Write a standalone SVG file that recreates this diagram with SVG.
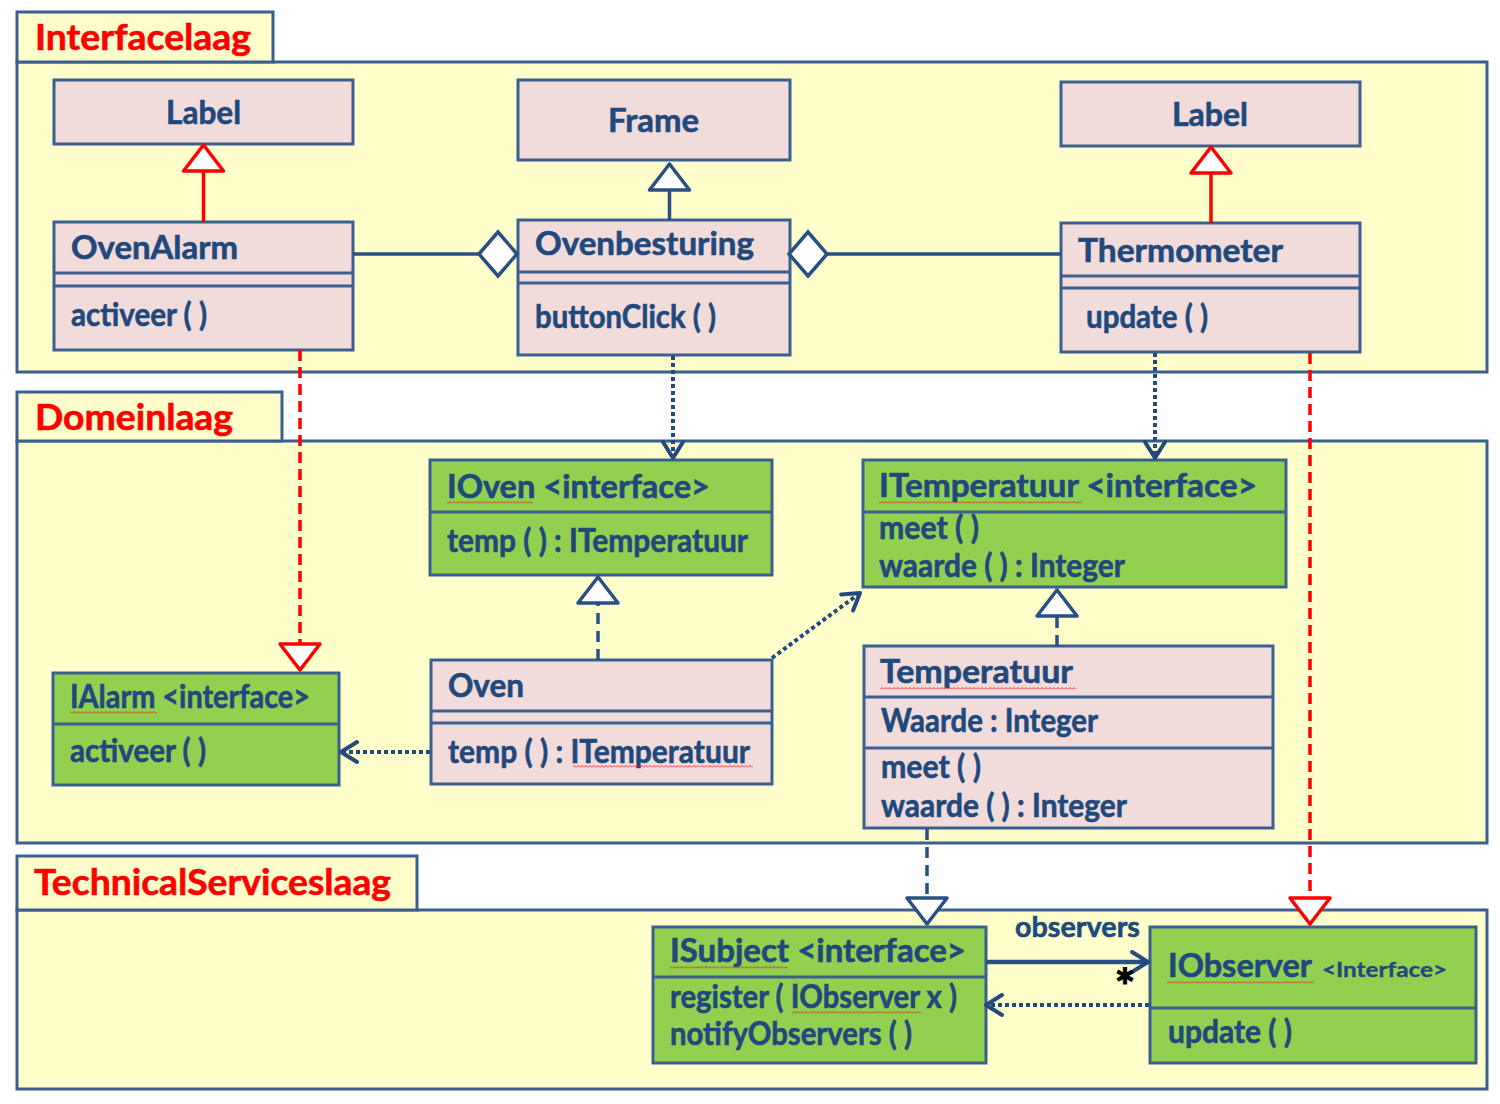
<svg xmlns="http://www.w3.org/2000/svg" width="1500" height="1104" viewBox="0 0 1500 1104">
<style>
.pkg{fill:#FFFFCC;stroke:#3B5F8E;stroke-width:3}
.cls{fill:#F2DCDB;stroke:#3B5F8E;stroke-width:3}
.ifc{fill:#92D050;stroke:#3B5F8E;stroke-width:3}
.sep{stroke:#3B5F8E;stroke-width:3;fill:none}
.t{font-family:Lato,'Noto Sans',sans-serif;font-weight:700;font-size:32px;fill:#1F497D;stroke:#1F497D;stroke-width:0.6px}
.pt{font-family:Lato,'Noto Sans',sans-serif;font-weight:700;font-size:36px;fill:#FF0000;stroke:#FF0000;stroke-width:0.6px}
.red{stroke:#FF0000;stroke-width:3.5;fill:none}
.redd{stroke:#FF0000;stroke-width:3.5;fill:none;stroke-dasharray:11 6}
.blue{stroke:#2A4F82;stroke-width:3.5;fill:none}
.blued{stroke:#2A4F82;stroke-width:3.5;fill:none;stroke-dasharray:11 7}
.dot{stroke:#24497E;stroke-width:4;fill:none;stroke-dasharray:4 3}
.sq{fill:url(#sq)}
</style>
<defs>
<pattern id="sq" width="4" height="3" patternUnits="userSpaceOnUse"><path d="M0,2.5 L2,0.5 L4,2.5" fill="none" stroke="#E02020" stroke-width="0.9"/></pattern>
<marker id="triRed" markerUnits="userSpaceOnUse" viewBox="-4 -24 34 48" refX="27" refY="0" markerWidth="34" markerHeight="48" orient="auto"><path d="M0,-20 L26,0 L0,20 Z" fill="#FFFFFF" stroke="#FF0000" stroke-width="3.5" stroke-linejoin="round"/></marker>
<marker id="triBlue" markerUnits="userSpaceOnUse" viewBox="-4 -24 34 48" refX="27" refY="0" markerWidth="34" markerHeight="48" orient="auto"><path d="M0,-20 L26,0 L0,20 Z" fill="#FFFFFF" stroke="#2A4F82" stroke-width="3.5" stroke-linejoin="round"/></marker>
<marker id="open" markerUnits="userSpaceOnUse" viewBox="-22 -14 26 28" refX="0" refY="0" markerWidth="26" markerHeight="28" orient="auto"><path d="M-16,-10 L0,0 L-16,10" fill="none" stroke="#24497E" stroke-width="4" stroke-linecap="round" stroke-linejoin="round"/></marker>
<marker id="diamond" markerUnits="userSpaceOnUse" viewBox="-42 -26 46 52" refX="0" refY="0" markerWidth="46" markerHeight="52" orient="auto"><path d="M-38,0 L-19,-22 L0,0 L-19,22 Z" fill="#FFFFFF" stroke="#2A4F82" stroke-width="3.5" stroke-linejoin="miter"/></marker>
</defs>
<rect width="1500" height="1104" fill="#FFFFFF"/>

<g id="pkg-interfacelaag">
<rect class="pkg" x="17" y="62" width="1470" height="310"/>
<rect class="pkg" x="17" y="12" width="256" height="50"/>
<text class="pt" x="35" y="50" textLength="216" lengthAdjust="spacingAndGlyphs">Interfacelaag</text>
</g>
<g id="pkg-domeinlaag">
<rect class="pkg" x="17" y="441" width="1470" height="402"/>
<rect class="pkg" x="17" y="392" width="265" height="49"/>
<text class="pt" x="35" y="430" textLength="198" lengthAdjust="spacingAndGlyphs">Domeinlaag</text>
</g>
<g id="pkg-technicalserviceslaag">
<rect class="pkg" x="17" y="910" width="1470" height="179"/>
<rect class="pkg" x="17" y="856" width="400" height="54"/>
<text class="pt" x="34" y="895" textLength="357" lengthAdjust="spacingAndGlyphs">TechnicalServiceslaag</text>
</g>

<g id="label-left">
<rect class="cls" x="54" y="80" width="299" height="64"/>
<text class="t" x="166" y="124" textLength="75" lengthAdjust="spacingAndGlyphs">Label</text>
</g>
<g id="ovenalarm">
<rect class="cls" x="54" y="222" width="299" height="128"/>
<path class="sep" d="M54,273 H353 M54,286 H353"/>
<text class="t" x="71" y="259" textLength="167" lengthAdjust="spacingAndGlyphs">OvenAlarm</text>
<text class="t" x="71" y="326" textLength="136" lengthAdjust="spacingAndGlyphs">activeer ( )</text>
</g>
<g id="frame">
<rect class="cls" x="518" y="80" width="272" height="80"/>
<text class="t" x="608" y="132" textLength="91" lengthAdjust="spacingAndGlyphs">Frame</text>
</g>
<g id="ovenbesturing">
<rect class="cls" x="518" y="220" width="272" height="135"/>
<path class="sep" d="M518,272 H790 M518,283 H790"/>
<text class="t" x="535" y="255" textLength="219" lengthAdjust="spacingAndGlyphs">Ovenbesturing</text>
<text class="t" x="535" y="328" textLength="181" lengthAdjust="spacingAndGlyphs">buttonClick ( )</text>
</g>
<g id="label-right">
<rect class="cls" x="1061" y="82" width="299" height="64"/>
<text class="t" x="1172" y="126" textLength="76" lengthAdjust="spacingAndGlyphs">Label</text>
</g>
<g id="thermometer">
<rect class="cls" x="1061" y="223" width="299" height="129"/>
<path class="sep" d="M1061,276 H1360 M1061,288 H1360"/>
<text class="t" x="1078" y="262" textLength="205" lengthAdjust="spacingAndGlyphs">Thermometer</text>
<text class="t" x="1086" y="328" textLength="122" lengthAdjust="spacingAndGlyphs">update ( )</text>
</g>

<g id="ioven">
<rect class="ifc" x="430" y="460" width="342" height="115"/>
<path class="sep" d="M430,512 H772"/>
<text class="t" x="447" y="498" textLength="263" lengthAdjust="spacingAndGlyphs">IOven &lt;interface&gt;</text>
<rect class="sq" x="447" y="501" width="86" height="3"/>
<text class="t" x="447" y="552" textLength="301" lengthAdjust="spacingAndGlyphs">temp ( ) : ITemperatuur</text>
</g>
<g id="itemperatuur">
<rect class="ifc" x="863" y="460" width="423" height="127"/>
<path class="sep" d="M863,512 H1286"/>
<text class="t" x="879" y="497" textLength="378" lengthAdjust="spacingAndGlyphs">ITemperatuur &lt;interface&gt;</text>
<rect class="sq" x="879" y="501" width="203" height="3"/>
<text class="t" x="879" y="539" textLength="100" lengthAdjust="spacingAndGlyphs">meet ( )</text>
<text class="t" x="879" y="577" textLength="246" lengthAdjust="spacingAndGlyphs">waarde ( ) : Integer</text>
</g>
<g id="ialarm">
<rect class="ifc" x="53" y="673" width="286" height="112"/>
<path class="sep" d="M53,724 H339"/>
<text class="t" x="70" y="708" textLength="240" lengthAdjust="spacingAndGlyphs">IAlarm &lt;interface&gt;</text>
<rect class="sq" x="70" y="711" width="87" height="3"/>
<text class="t" x="70" y="762" textLength="136" lengthAdjust="spacingAndGlyphs">activeer ( )</text>
</g>
<g id="oven">
<rect class="cls" x="431" y="660" width="341" height="124"/>
<path class="sep" d="M431,711 H772 M431,723 H772"/>
<text class="t" x="448" y="697" textLength="76" lengthAdjust="spacingAndGlyphs">Oven</text>
<text class="t" x="448" y="763" textLength="302" lengthAdjust="spacingAndGlyphs">temp ( ) : ITemperatuur</text>
<rect class="sq" x="573" y="765" width="180" height="3"/>
</g>
<g id="temperatuur">
<rect class="cls" x="864" y="646" width="409" height="182"/>
<path class="sep" d="M864,697 H1273 M864,748 H1273"/>
<text class="t" x="880" y="683" textLength="193" lengthAdjust="spacingAndGlyphs">Temperatuur</text>
<rect class="sq" x="880" y="687" width="196" height="3"/>
<text class="t" x="881" y="732" textLength="217" lengthAdjust="spacingAndGlyphs">Waarde : Integer</text>
<text class="t" x="881" y="778" textLength="100" lengthAdjust="spacingAndGlyphs">meet ( )</text>
<text class="t" x="881" y="817" textLength="246" lengthAdjust="spacingAndGlyphs">waarde ( ) : Integer</text>
</g>

<g id="isubject">
<rect class="ifc" x="653" y="927" width="333" height="136"/>
<path class="sep" d="M653,977 H986"/>
<text class="t" x="670" y="962" textLength="296" lengthAdjust="spacingAndGlyphs">ISubject &lt;interface&gt;</text>
<rect class="sq" x="670" y="966" width="118" height="3"/>
<text class="t" x="670" y="1008" textLength="287" lengthAdjust="spacingAndGlyphs">register ( IObserver x )</text>
<rect class="sq" x="792" y="1011" width="129" height="3"/>
<text class="t" x="670" y="1045" textLength="242" lengthAdjust="spacingAndGlyphs">notifyObservers ( )</text>
</g>
<g id="iobserver">
<rect class="ifc" x="1150" y="927" width="326" height="136"/>
<path class="sep" d="M1150,1008 H1476"/>
<text class="t" x="1168" y="977" textLength="144" lengthAdjust="spacingAndGlyphs">IObserver</text>
<rect class="sq" x="1167" y="981" width="147" height="3"/>
<text class="t" x="1322" y="977" style="font-size:20px;stroke-width:0.3px" textLength="125" lengthAdjust="spacingAndGlyphs">&lt;Interface&gt;</text>
<text class="t" x="1168" y="1043" textLength="124" lengthAdjust="spacingAndGlyphs">update ( )</text>
</g>

<g id="connectors">
<path class="red" d="M203.5,222 V144" marker-end="url(#triRed)"/>
<path class="blue" d="M669.5,220 V163" marker-end="url(#triBlue)"/>
<path class="red" d="M1211,223 V146" marker-end="url(#triRed)"/>
<path class="blue" d="M353,254 H517" marker-end="url(#diamond)"/>
<path class="blue" d="M1061,254 H789" marker-end="url(#diamond)"/>
<path class="dot" d="M673,356 V458" marker-end="url(#open)"/>
<path class="dot" d="M1155,353 V458" marker-end="url(#open)"/>
<path class="redd" d="M300,350 V671" marker-end="url(#triRed)"/>
<path class="redd" d="M1310,353 V925" marker-end="url(#triRed)"/>
<path class="blued" d="M598,660 V576" marker-end="url(#triBlue)"/>
<path class="dot" d="M772,658 L860,593" marker-end="url(#open)"/>
<path class="dot" d="M430,752 H341" marker-end="url(#open)"/>
<path class="blued" d="M1057,646 V589" marker-end="url(#triBlue)"/>
<path class="blued" d="M927,829 V925" marker-end="url(#triBlue)"/>
<path class="blue" d="M986,962 H1148" style="stroke-width:4.5" marker-end="url(#open)"/>
<path class="dot" d="M1149,1005 H986" marker-end="url(#open)"/>
<text class="t" x="1015" y="937" style="font-size:29px" textLength="125" lengthAdjust="spacingAndGlyphs">observers</text>
<text x="1125" y="1004" text-anchor="middle" style="font-family:Lato,'Noto Sans',sans-serif;font-weight:900;font-size:48px;fill:#000000;stroke:#000000;stroke-width:1px">*</text>
</g>
</svg>
